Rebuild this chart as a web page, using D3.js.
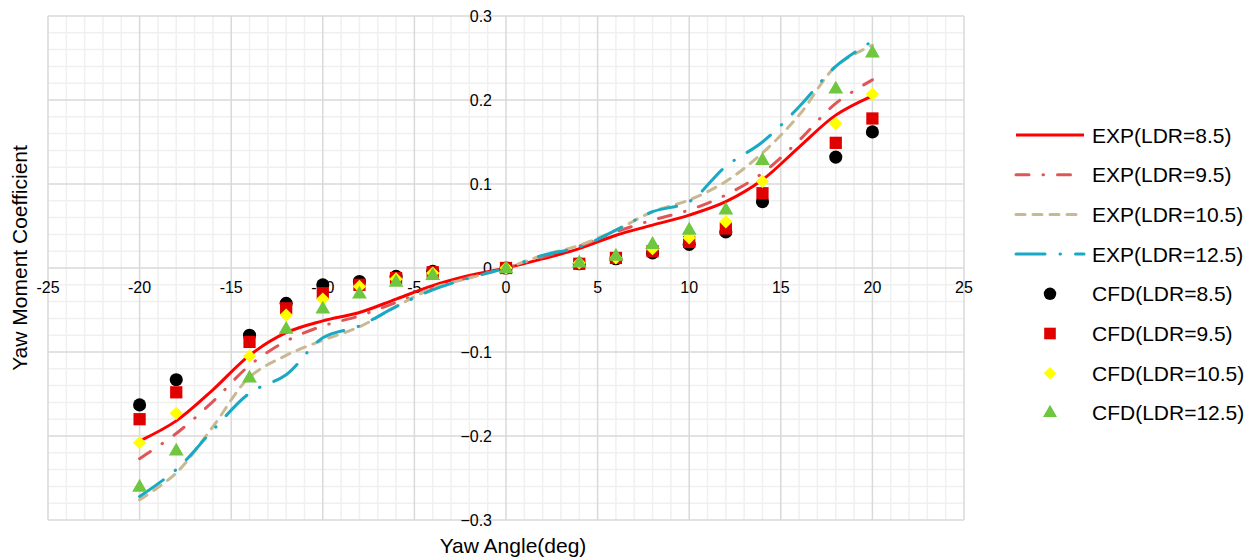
<!DOCTYPE html>
<html>
<head>
<meta charset="utf-8">
<script src="https://cdn.jsdelivr.net/npm/d3@7"></script>
<style>
	body { margin: 0; background: #fff; }
	svg { display: block; font-family: "Liberation Sans", Arial, sans-serif; }
</style>
</head>
<body>
<div id="chart"></div>
<script>
/* Data */
const expAngles = [-20, -18, -16, -14, -12, -10, -8, -6, -4, -2, 0, 2, 4, 6, 8, 10, 12, 14, 16, 18, 20];
const exp85 = [-0.206, -0.182, -0.145, -0.104, -0.077, -0.063, -0.053, -0.037, -0.021, -0.009, 0, 0.011, 0.023, 0.039, 0.051, 0.063, 0.079, 0.105, 0.144, 0.182, 0.205];
const exp95 = [-0.227, -0.197, -0.159, -0.116, -0.087, -0.069, -0.057, -0.041, -0.025, -0.011, 0, 0.013, 0.026, 0.043, 0.057, 0.069, 0.087, 0.113, 0.152, 0.196, 0.224];
const exp105 = [-0.276, -0.244, -0.189, -0.130, -0.104, -0.086, -0.070, -0.046, -0.024, -0.012, 0, 0.015, 0.027, 0.045, 0.067, 0.081, 0.103, 0.137, 0.182, 0.240, 0.265];
const exp125 = [-0.272, -0.240, -0.193, -0.149, -0.127, -0.083, -0.069, -0.046, -0.026, -0.012, 0, 0.015, 0.025, 0.045, 0.067, 0.079, 0.121, 0.150, 0.192, 0.240, 0.270];

const cfdAngles = [-20, -18, -14, -12, -10, -8, -6, -4, 0, 4, 6, 8, 10, 12, 14, 18, 20];
const cfd85 = [-0.163, -0.133, -0.080, -0.042, -0.020, -0.016, -0.010, -0.004, 0, 0.005, 0.011, 0.018, 0.028, 0.043, 0.079, 0.132, 0.162];
const cfd95 = [-0.180, -0.148, -0.088, -0.048, -0.030, -0.020, -0.012, -0.005, 0, 0.005, 0.012, 0.020, 0.031, 0.047, 0.089, 0.149, 0.178];
const cfd105 = [-0.208, -0.173, -0.105, -0.056, -0.037, -0.022, -0.013, -0.006, 0, 0.006, 0.012, 0.023, 0.036, 0.055, 0.103, 0.172, 0.207];
const cfd125 = [-0.260, -0.217, -0.130, -0.072, -0.048, -0.030, -0.016, -0.008, 0, 0.007, 0.015, 0.029, 0.046, 0.070, 0.129, 0.214, 0.257];

const xTicks = [-25, -20, -15, -10, -5, 0, 5, 10, 15, 20, 25];
const yTicks = [-0.3, -0.2, -0.1, 0, 0.1, 0.2, 0.3];

const expSeries = [
	{ name: "EXP(LDR=8.5)", values: exp85, color: "#ff0000", dash: null },
	{ name: "EXP(LDR=9.5)", values: exp95, color: "#e05555", dash: "13,14,0.5,14" },
	{ name: "EXP(LDR=10.5)", values: exp105, color: "#c9b992", dash: "9,8" },
	{ name: "EXP(LDR=12.5)", values: exp125, color: "#18a9c5", dash: "29,15,0.5,15" }
];
// diamond = square turned 45 degrees
const cfdSeries = [
	{ name: "CFD(LDR=8.5)", values: cfd85, color: "#000000", symbol: d3.symbolCircle, size: 135, rot: 0 },
	{ name: "CFD(LDR=9.5)", values: cfd95, color: "#e00000", symbol: d3.symbolSquare, size: 150, rot: 0 },
	{ name: "CFD(LDR=10.5)", values: cfd105, color: "#ffff00", symbol: d3.symbolSquare, size: 88, rot: 45 },
	{ name: "CFD(LDR=12.5)", values: cfd125, color: "#6fc63f", symbol: d3.symbolTriangle, size: 95, rot: 0 }
];

/* Layout */
const width = 1256, height = 559;
const plot = { left: 48, right: 964, top: 16, bottom: 520 };

const svg = d3.select("#chart").append("svg")
	.attr("width", width)
	.attr("height", height);

svg.append("rect").attr("width", width).attr("height", height).attr("fill", "#fff");

const x = d3.scaleLinear().domain([-25, 25]).range([plot.left, plot.right]);
const y = d3.scaleLinear().domain([-0.3, 0.3]).range([plot.bottom, plot.top]);

/* Grid */
const grid = svg.append("g");
grid.selectAll(".vminor")
	.data(d3.range(-25, 26, 1).filter((d) => d % 5 !== 0))
	.enter().append("line")
	.attr("x1", (d) => x(d)).attr("x2", (d) => x(d))
	.attr("y1", plot.top).attr("y2", plot.bottom)
	.attr("stroke", "#f0f0f0").attr("stroke-width", 1.5);
grid.selectAll(".hminor")
	.data(d3.range(-15, 16, 1).filter((d) => d % 5 !== 0).map((d) => d * 0.02))
	.enter().append("line")
	.attr("x1", plot.left).attr("x2", plot.right)
	.attr("y1", (d) => y(d)).attr("y2", (d) => y(d))
	.attr("stroke", "#f0f0f0").attr("stroke-width", 1.5);
grid.selectAll(".vmajor")
	.data(xTicks)
	.enter().append("line")
	.attr("x1", (d) => x(d)).attr("x2", (d) => x(d))
	.attr("y1", plot.top).attr("y2", plot.bottom)
	.attr("stroke", "#d9d9d9").attr("stroke-width", 1.5);
grid.selectAll(".hmajor")
	.data(yTicks)
	.enter().append("line")
	.attr("x1", plot.left).attr("x2", plot.right)
	.attr("y1", (d) => y(d)).attr("y2", (d) => y(d))
	.attr("stroke", "#d9d9d9").attr("stroke-width", 1.5);

/* Tick labels */
svg.append("g").selectAll("text")
	.data(xTicks)
	.enter().append("text")
	.attr("x", (d) => x(d))
	.attr("y", y(0) + 25)
	.attr("text-anchor", "middle")
	.attr("font-size", 16)
	.attr("fill", "#000")
	.text((d) => d);

svg.append("g").selectAll("text")
	.data(yTicks)
	.enter().append("text")
	.attr("x", x(0) - 14)
	.attr("y", (d) => y(d) + 6)
	.attr("text-anchor", "end")
	.attr("font-size", 16)
	.attr("fill", "#000")
	.text((d) => d3.format("")(+d.toFixed(1)));

/* Axis titles */
svg.append("text")
	.attr("x", 513)
	.attr("y", 553)
	.attr("text-anchor", "middle")
	.attr("font-size", 21)
	.text("Yaw Angle(deg)");

svg.append("text")
	.attr("transform", "translate(27,258) rotate(-90)")
	.attr("text-anchor", "middle")
	.attr("font-size", 21)
	.text("Yaw Moment Coefficient");

/* EXP lines */
const line = d3.line()
	.x((d, i) => x(expAngles[i]))
	.y((d) => y(d))
	.curve(d3.curveCatmullRom.alpha(0.5));

svg.append("g").selectAll("path")
	.data(expSeries)
	.enter().append("path")
	.attr("d", (s) => line(s.values))
	.attr("fill", "none")
	.attr("stroke", (s) => s.color)
	.attr("stroke-width", 3)
	.attr("stroke-linecap", (s) => s.dash ? "round" : "butt")
	.attr("stroke-dasharray", (s) => s.dash);

/* CFD markers */
cfdSeries.forEach((s) => {
	svg.append("g").selectAll("path")
		.data(s.values)
		.enter().append("path")
		.attr("transform", (d, i) => `translate(${x(cfdAngles[i])},${y(d) + (s.symbol === d3.symbolTriangle ? 1 : 0)}) rotate(${s.rot})`)
		.attr("d", d3.symbol().type(s.symbol).size(s.size))
		.attr("fill", s.color);
});

/* Legend */
const legend = svg.append("g");
const rowY = (i) => 135 + i * 39.7;

expSeries.forEach((s, i) => {
	legend.append("line")
		.attr("x1", 1016).attr("x2", 1084)
		.attr("y1", rowY(i)).attr("y2", rowY(i))
		.attr("stroke", s.color)
		.attr("stroke-width", 3)
		.attr("stroke-linecap", s.dash ? "round" : "butt")
		.attr("stroke-dasharray", s.dash);
	legend.append("text")
		.attr("x", 1092).attr("y", rowY(i) + 7.5)
		.attr("font-size", 21)
		.text(s.name);
});

cfdSeries.forEach((s, j) => {
	const i = j + 4;
	legend.append("path")
		.attr("transform", `translate(1050,${rowY(i)}) rotate(${s.rot})`)
		.attr("d", d3.symbol().type(s.symbol).size(s.size * 0.9))
		.attr("fill", s.color);
	legend.append("text")
		.attr("x", 1092).attr("y", rowY(i) + 7.5)
		.attr("font-size", 21)
		.text(s.name);
});
</script>
</body>
</html>
